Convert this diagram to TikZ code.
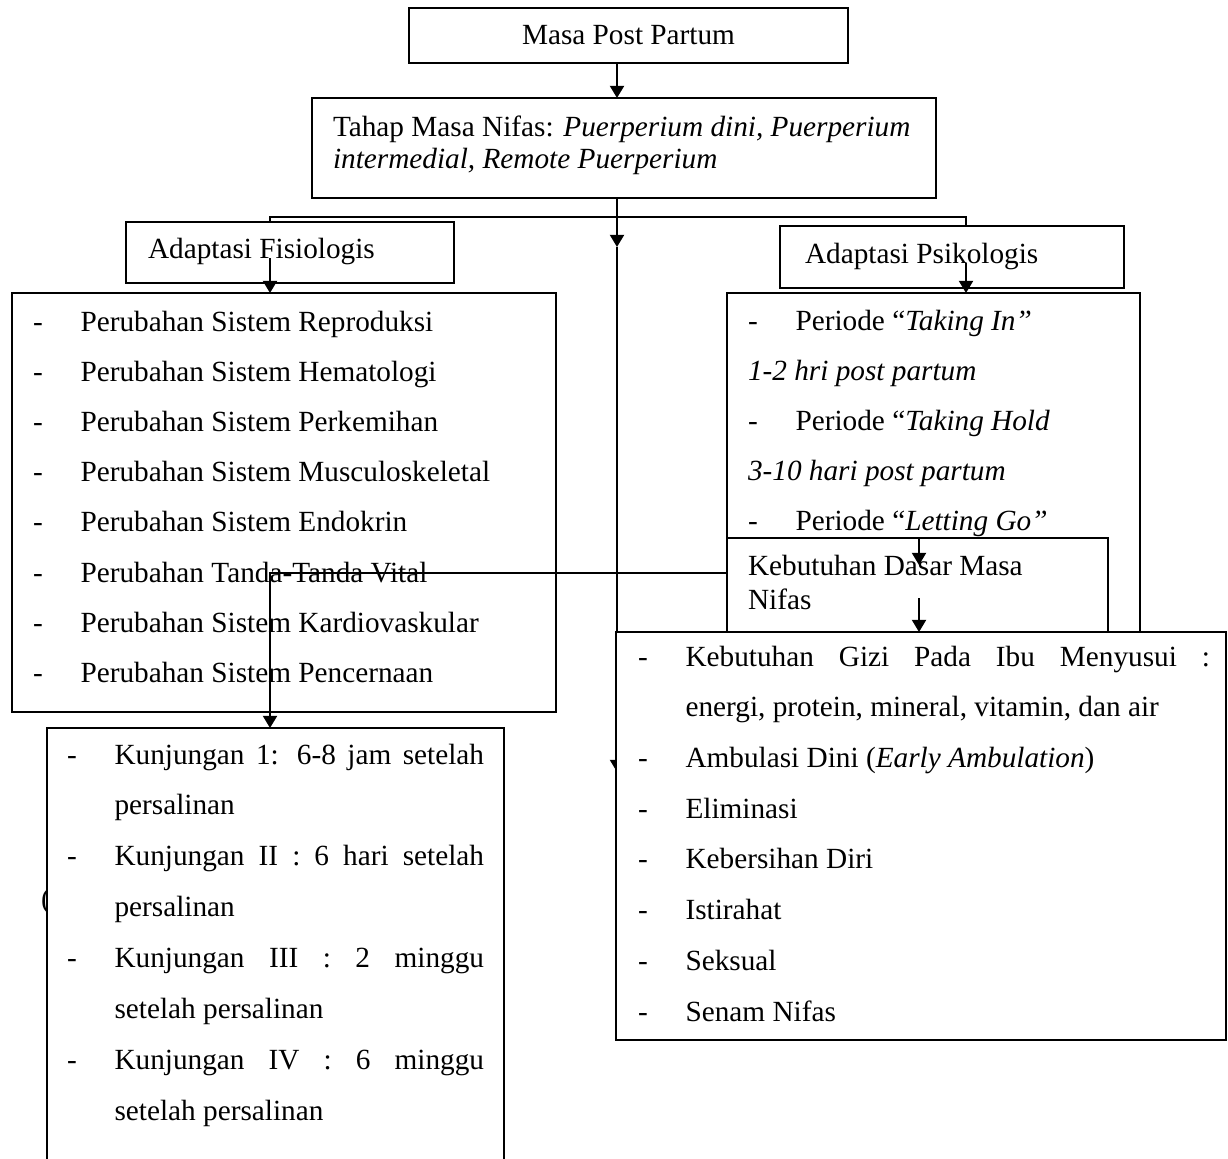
\documentclass[tikz,border=0pt]{standalone}
\usepackage{fontspec}
\setmainfont{Liberation Serif}
\usetikzlibrary{arrows.meta,positioning}
\definecolor{ink}{HTML}{000000}
\newcommand\pxu{0.41pt}
\newlength\itemgap
\setlength\itemgap{19.5pt}
% list helpers
\newcommand\itm[1]{\hangindent=\itemgap\hangafter=1\noindent\makebox[\itemgap][l]{-}#1\par}
\newcommand\plainln[1]{\noindent#1\par}
\newcommand\blk[3]{\parbox[t]{#1}{\setlength\baselineskip{#2}\tolerance=10000\emergencystretch=20pt #3}}
\tikzset{
  box/.style={draw=ink, line width=0.75pt, fill=white, inner sep=0pt, outer sep=0pt, anchor=north west},
  lab/.style={text=ink, inner sep=0pt, outer sep=0pt, anchor=base west},
  con/.style={draw=ink, line width=0.75pt},
  arr/.style={con, -{Triangle[width=5.8pt,length=5pt]}},
}

\begin{document}
\begin{tikzpicture}[x=0.41pt, y=-0.41pt, every node/.style={font=\fontsize{12pt}{14pt}\selectfont}]
  \fill[white] (0,0) rectangle (1228,1158);
  \useasboundingbox (0,0) rectangle (1228,1158);
  \clip (0,0) rectangle (1228,1158);
  % top
  \node[box, minimum width=439*\pxu, minimum height=55*\pxu] (post) at (409,8) {Masa Post Partum};
  \node[box, minimum width=624*\pxu, minimum height=100*\pxu] (tahap) at (312,98) {};
  \node[lab] (tahapT) at (333,136) {\blk{250pt}{13.5pt}{Tahap Masa Nifas: \textit{Puerperium dini, Puerperium}\\\textit{intermedial, Remote Puerperium}}};
  \coordinate (sp0) at (617,63);
  \draw[arr] (post.south -| sp0) -- (tahap.north -| sp0);
  % branches
  \coordinate (brL) at (270,217);
  \coordinate (brR) at (966,217);
  \coordinate (sp1) at (617,247);
  \coordinate (sp2) at (617,772);
  \node[box, minimum width=328*\pxu, minimum height=61*\pxu] (fis) at (126,222) {};
  \node[lab] (fisT) at (148,258) {Adaptasi Fisiologis};
  \node[box, minimum width=344*\pxu, minimum height=62*\pxu] (psi) at (780,226) {};
  \node[lab] (psiT) at (805,263) {Adaptasi Psikologis};
  \draw[con] (fis.north -| brL) -- (brL) -- (brR) -- (psi.north -| brR);
  \draw[arr] (tahap.south -| sp1) -- (sp1);
  \draw[arr] (sp1) -- (sp2);
  % left list
  \node[box, minimum width=544*\pxu, minimum height=419*\pxu] (lfis) at (12,293) {};
  \node[lab] (lfisT) at (33,331) {\blk{213pt}{20.6pt}{%
    \itm{Perubahan Sistem Reproduksi}
    \itm{Perubahan Sistem Hematologi}
    \itm{Perubahan Sistem Perkemihan}
    \itm{Perubahan Sistem Musculoskeletal}
    \itm{Perubahan Sistem Endokrin}
    \itm{Perubahan Tanda-Tanda Vital}
    \itm{Perubahan Sistem Kardiovaskular}
    \itm{Perubahan Sistem Pencernaan}}};
  \coordinate (fisIn) at (270,258);
  \draw[arr] (fisIn) -- (lfis.north -| fisIn);
  % right list
  \node[box, minimum width=413*\pxu, minimum height=339*\pxu] (lpsi) at (727,293) {};
  \node[lab] (lpsiT) at (748,330) {\blk{160pt}{20.5pt}{%
    \itm{Periode “\textit{Taking In”}}
    \plainln{\textit{1-2 hri post partum}}
    \itm{Periode “\textit{Taking Hold}}
    \plainln{\textit{3-10 hari post partum}}
    \itm{Periode “\textit{Letting Go”}}}};
  \coordinate (psiIn) at (966,263);
  \draw[arr] (psiIn) -- (lpsi.north -| psiIn);
  \node[box, minimum width=381*\pxu, minimum height=94*\pxu] (kdas) at (727,538) {};
  \node[lab] (kdasT) at (748,575) {\blk{150pt}{14.3pt}{Kebutuhan Dasar Masa\\Nifas}};
  \coordinate (kd1) at (919,565);
  \coordinate (kd2) at (919,598);
  \draw[arr] (kdas.north -| kd1) -- (kd1);
  \draw[arr] (kd2) -- (kdas.south -| kd2);
  % visits
  \coordinate (tv) at (270,573);
  \draw[arr] (kdas.west |- tv) -- (tv) -- (270,728);
  \node[lab] (paren) at (41,908) {(};
  \node[box, minimum width=457*\pxu, minimum height=500*\pxu] (kunj) at (47,728) {};
  \node[lab] (kunjT) at (67,764) {\blk{171pt}{20.9pt}{%
    \itm{Kunjungan 1: 6-8 jam setelah\linebreak persalinan}
    \itm{Kunjungan II : 6 hari setelah\linebreak persalinan}
    \itm{Kunjungan III : 2 minggu\linebreak setelah persalinan}
    \itm{Kunjungan IV : 6 minggu\linebreak setelah persalinan}}};
  % needs
  \node[box, minimum width=610*\pxu, minimum height=408*\pxu] (kbut) at (616,632) {};
  \node[lab] (kbutT) at (638,666) {\blk{234.5pt}{20.8pt}{%
    \itm{Kebutuhan Gizi Pada Ibu Menyusui :\linebreak energi, protein, mineral, vitamin, dan air}
    \itm{Ambulasi Dini (\textit{Early Ambulation})}
    \itm{Eliminasi}
    \itm{Kebersihan Diri}
    \itm{Istirahat}
    \itm{Seksual}
    \itm{Senam Nifas}}};
\end{tikzpicture}
\end{document}
